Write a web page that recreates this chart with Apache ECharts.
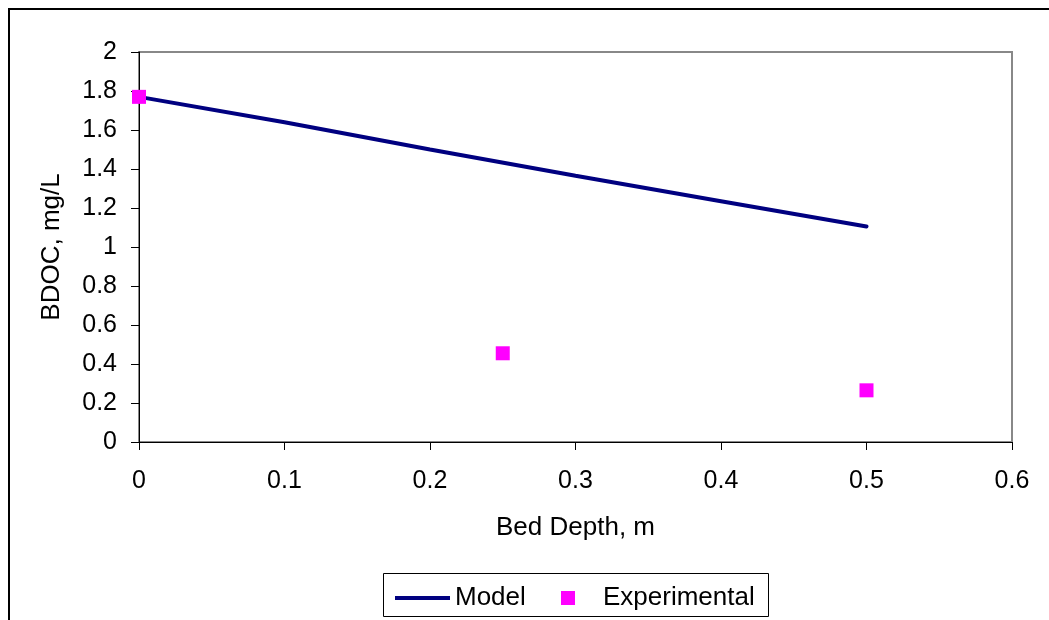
<!DOCTYPE html>
<html>
<head>
<meta charset="utf-8">
<script src="https://cdn.jsdelivr.net/npm/echarts@6/dist/echarts.min.js"></script>
<style>
html,body{margin:0;padding:0;background:#fff;}
#c{width:1049px;height:620px;}
</style>
</head>
<body>
<div id="c"></div>
<script>
var modelX = [0, 0.1, 0.2, 0.3, 0.4, 0.5];
var modelY = [1.77, 1.64, 1.50, 1.365, 1.235, 1.105];
var expX = [0, 0.25, 0.5];
var expY = [1.77, 0.455, 0.265];
var xTicks = [0, 0.1, 0.2, 0.3, 0.4, 0.5, 0.6];
var yTicks = [0, 0.2, 0.4, 0.6, 0.8, 1, 1.2, 1.4, 1.6, 1.8, 2];

var font = 'Liberation Sans, Arial, sans-serif';
var chart = echarts.init(document.getElementById('c'));
chart.setOption({
  animation: false,
  backgroundColor: '#fff',
  grid: {left: 139, top: 52, right: 37, bottom: 178, show: true, borderColor: '#888', borderWidth: 2, backgroundColor: 'transparent'},
  xAxis: {
    type: 'value', min: 0, max: 0.6, interval: 0.1,
    name: 'Bed Depth, m', nameLocation: 'middle', nameGap: 73,
    nameTextStyle: {fontFamily: font, fontSize: 26, color: '#000'},
    axisLine: {show: true, onZero: false, lineStyle: {color: '#000', width: 1}},
    axisTick: {show: true, length: 8, lineStyle: {color: '#000'}},
    axisLabel: {fontFamily: font, fontSize: 25, color: '#000', margin: 27,
      formatter: function(v){ var s = xTicks.find(function(t){return Math.abs(t-v)<1e-9;}); return s===undefined? '' : String(s); }},
    splitLine: {show: false}
  },
  yAxis: {
    type: 'value', min: 0, max: 2, interval: 0.2,
    name: 'BDOC, mg/L', nameLocation: 'middle', nameGap: 74,
    nameTextStyle: {fontFamily: font, fontSize: 26, color: '#000'},
    axisLine: {show: true, onZero: false, lineStyle: {color: '#000', width: 1}},
    axisTick: {show: true, length: 8, lineStyle: {color: '#000'}},
    axisLabel: {fontFamily: font, fontSize: 25, color: '#000', margin: 22,
      formatter: function(v){ var s = yTicks.find(function(t){return Math.abs(t-v)<1e-9;}); return s===undefined? '' : String(s); }},
    splitLine: {show: false}
  },
  legend: [
    {data: ['Model'], left: 390, top: 580, itemWidth: 55, itemHeight: 4, itemGap: 0,
     icon: 'rect', textStyle: {fontFamily: font, fontSize: 26, color: '#000', padding: [0,0,0,0]}},
    {data: ['Experimental'], left: 556, top: 580, itemWidth: 14, itemHeight: 14,
     textStyle: {fontFamily: font, fontSize: 26, color: '#000', padding: [0,0,0,23]}}
  ],
  graphic: [
    {type: 'polyline', shape: {points: [[9, 620], [9, 9], [1049, 9]]}, style: {stroke: '#000', lineWidth: 2, fill: null}, silent: true},
    {type: 'rect', shape: {x: 383.5, y: 573.5, width: 385, height: 43}, style: {stroke: '#000', lineWidth: 1, fill: null}, silent: true, z: 0}
  ],
  series: [
    {name: 'Model', type: 'line', data: modelX.map(function(x,i){return [x, modelY[i]];}),
     showSymbol: false, symbol: 'none', lineStyle: {color: '#000080', width: 4, cap: 'round'}, itemStyle: {color: '#000080'}, z: 2},
    {name: 'Experimental', type: 'scatter', data: expX.map(function(x,i){return [x, expY[i]];}),
     symbol: 'rect', symbolSize: 14, itemStyle: {color: '#ff00ff', opacity: 1}, z: 3}
  ]
});
</script>
</body>
</html>
